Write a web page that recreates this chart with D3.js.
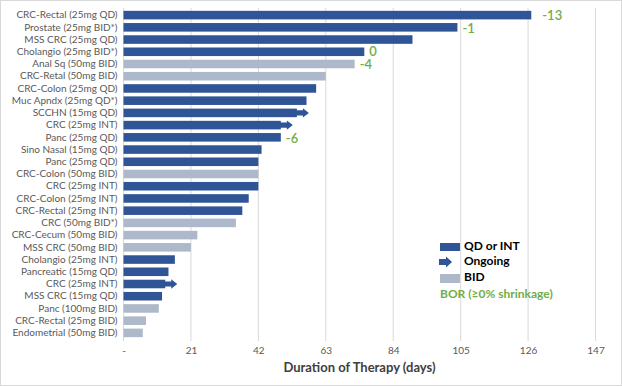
<!DOCTYPE html>
<html>
<head>
<meta charset="utf-8">
<script src="https://cdn.jsdelivr.net/npm/d3@7"></script>
<style>
  body { margin: 0; background: #fff; }
  text { font-family: Lato, "Open Sans", sans-serif; }
</style>
</head>
<body>
<div id="chart"></div>
<script>
// patient rows, top to bottom
const patients = [
  "CRC-Rectal (25mg QD)", "Prostate (25mg BID*)", "MSS CRC (25mg QD)", "Cholangio (25mg BID*)",
  "Anal Sq (50mg BID)", "CRC-Retal (50mg BID)", "CRC-Colon (25mg QD)", "Muc Apndx (25mg QD*)",
  "SCCHN (15mg QD)", "CRC (25mg INT)", "Panc (25mg QD)", "Sino Nasal (15mg QD)",
  "Panc (25mg QD)", "CRC-Colon (50mg BID)", "CRC (25mg INT)", "CRC-Colon (25mg INT)",
  "CRC-Rectal (25mg INT)", "CRC (50mg BID*)", "CRC-Cecum (50mg BID)", "MSS CRC (50mg BID)",
  "Cholangio (25mg INT)", "Pancreatic (15mg QD)", "CRC (25mg INT)", "MSS CRC (15mg QD)",
  "Panc (100mg BID)", "CRC-Rectal (25mg BID)", "Endometrial (50mg BID)"
];
// duration of therapy in days
const durations = [127, 104, 90, 75, 72, 63, 60, 57, 54, 49, 49, 43, 42, 42, 42, 39, 37, 35, 23, 21, 16, 14, 13, 12, 11, 7, 6];
// dosing group: Q = QD or INT, B = BID
const groups = ["Q","Q","Q","Q","B","B","Q","Q","Q","Q","Q","Q","Q","B","Q","Q","Q","B","B","B","Q","Q","Q","Q","B","B","B"];
// still on therapy
const ongoing = [false,false,false,false,false,false,false,false,true,true,false,false,false,false,false,false,false,false,false,false,false,false,true,false,false,false,false];
// best overall response (% change), null when not shown
const bor = [-13, -1, null, 0, -4, null, null, null, null, null, -6, null, null, null, null, null, null, null, null, null, null, null, null, null, null, null, null];
const xTicks = [0, 21, 42, 63, 84, 105, 126, 147];

const width = 622, height = 386;
const dark = "#2f5597", light = "#adb9ca", green = "#70ad47";

const svg = d3.select("#chart").append("svg")
  .attr("width", width).attr("height", height);

// outer frame
svg.append("rect")
  .attr("x", 0.5).attr("y", 0.5)
  .attr("width", width - 1).attr("height", height - 1)
  .attr("fill", "#fff").attr("stroke", "#d9d9d9");

const x = d3.scaleLinear().domain([0, 147]).range([123.5, 595.5]);
const y = d3.scaleBand().domain(d3.range(patients.length)).range([9, 339]).paddingInner(0.3).paddingOuter(0.15);

// gridlines
svg.append("g").selectAll("line")
  .data(xTicks)
  .join("line")
  .attr("x1", d => x(d)).attr("x2", d => x(d))
  .attr("y1", 8).attr("y2", 341)
  .attr("stroke", "#d9d9d9").attr("stroke-width", 1);

// x axis labels
const xAxis = d3.axisBottom(x).tickValues(xTicks)
  .tickFormat(d => d === 0 ? "-" : d).tickSize(0).tickPadding(6);
const gx = svg.append("g").attr("transform", "translate(0,341)").call(xAxis);
gx.select(".domain").remove();
gx.selectAll("text").attr("fill", "#595959").style("font-size", "10px")
  .style("font-family", "Lato, 'Open Sans', sans-serif");

svg.append("text")
  .attr("x", (x(0) + x(147)) / 2).attr("y", 372)
  .attr("text-anchor", "middle")
  .attr("fill", "#404040")
  .style("font-size", "13px").style("font-weight", "bold")
  .text("Duration of Therapy (days)");

// y labels
const yAxis = d3.axisLeft(y).tickFormat(i => patients[i]).tickSize(0).tickPadding(6);
const gy = svg.append("g").attr("transform", `translate(${x(0)},0)`).call(yAxis);
gy.select(".domain").remove();
gy.selectAll("text").attr("fill", "#595959").style("font-size", "10px")
  .style("font-family", "Lato, 'Open Sans', sans-serif");

// bars
svg.append("g").selectAll("rect")
  .data(durations)
  .join("rect")
  .attr("x", x(0))
  .attr("y", (d, i) => y(i))
  .attr("width", d => x(d) - x(0))
  .attr("height", y.bandwidth())
  .attr("fill", (d, i) => groups[i] === "Q" ? dark : light);

// ongoing arrows
function arrowPath(x0, cy, h) {
  const s = h * 0.3, hh = h * 0.55;
  return `M${x0},${cy - s}L${x0 + 7},${cy - s}L${x0 + 7},${cy - hh}L${x0 + 13},${cy}` +
    `L${x0 + 7},${cy + hh}L${x0 + 7},${cy + s}L${x0},${cy + s}Z`;
}
svg.append("g").selectAll("path")
  .data(durations.map((d, i) => ({ d, i })).filter(o => ongoing[o.i]))
  .join("path")
  .attr("d", o => arrowPath(x(o.d) - 1, y(o.i) + y.bandwidth() / 2, y.bandwidth()))
  .attr("fill", dark);

// BOR labels
svg.append("g").selectAll("text")
  .data(bor.map((b, i) => ({ b, i })).filter(o => o.b !== null))
  .join("text")
  .attr("x", o => x(durations[o.i]) + (o.i === 0 ? 11 : 5))
  .attr("y", o => y(o.i) + y.bandwidth() / 2 + (o.i === 3 ? 1 : 2))
  .attr("dominant-baseline", "middle")
  .attr("fill", green)
  .style("font-size", "13px")
  .style("font-weight", "600")
  .text(o => o.b);

// legend
const lg = svg.append("g").attr("transform", "translate(440,0)");
lg.append("rect").attr("x", 0).attr("y", 243).attr("width", 20).attr("height", 8).attr("fill", dark);
lg.append("path").attr("d", arrowPath(2, 262, 10)).attr("fill", dark)
  .attr("transform", "translate(-3,0)");
lg.append("rect").attr("x", 0).attr("y", 274).attr("width", 20).attr("height", 9).attr("fill", light);
const legendText = [
  { t: "QD or INT", y: 247, c: "#000" },
  { t: "Ongoing", y: 262, c: "#000" },
  { t: "BID", y: 278, c: "#000" },
  { t: "BOR (\u22650% shrinkage)", y: 295, c: green, dx: -1 }
];
lg.selectAll("text.leg")
  .data(legendText)
  .join("text")
  .attr("class", "leg")
  .attr("x", d => d.dx !== undefined ? 0 : 24)
  .attr("y", d => d.y)
  .attr("dominant-baseline", "middle")
  .attr("fill", d => d.c)
  .style("font-size", "12px")
  .style("font-weight", "bold")
  .text(d => d.t);
</script>
</body>
</html>
